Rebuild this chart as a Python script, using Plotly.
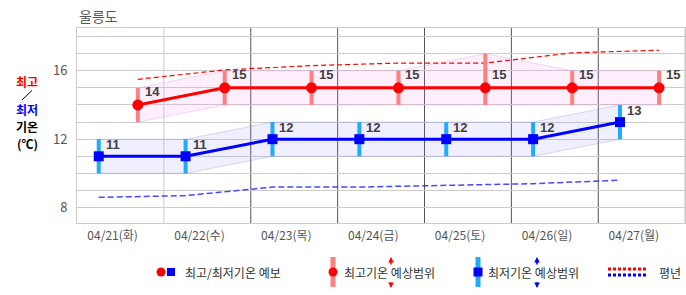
import plotly.graph_objects as go

# ---------------- data ----------------
dates = ["04/21(화)", "04/22(수)", "04/23(목)", "04/24(금)", "04/25(토)", "04/26(일)", "04/27(월)"]
max_temp = [14, 15, 15, 15, 15, 15, 15]
min_temp = [11, 11, 12, 12, 12, 12, 13]
max_lo = [13, 14, 14, 14, 14, 14, 14]
max_hi = [15, 16, 16, 16, 17, 16, 16]
min_lo = [10, 10, 11, 11, 11, 11, 12]
min_hi = [12, 12, 13, 13, 13, 13, 14]
normal_max = [15.5, 16.05, 16.3, 16.45, 16.45, 17.05, 17.2]
normal_min = [8.6, 8.7, 9.2, 9.2, 9.3, 9.4, 9.6]
y_ticks = [8, 12, 16]

# positions within a day (fraction of the day cell)
MIN_OFF, MAX_OFF, LBL_OFF = 0.25, 0.70, 0.41
n = len(dates)
x_min = [i + MIN_OFF for i in range(n)]
x_max = [i + MAX_OFF for i in range(n)]

FONT = "Noto Sans CJK KR"
RED, BLUE = "#ff0000", "#0000ff"
RED_BAR, BLUE_BAR = "#ff8080", "#22aaff"

# pixel helpers for decorations outside the plot
L, R, T, B = 77, 686, 28, 223
W, H = R - L, B - T
def xp(px): return (px - L) / W
def yp(py): return (B - py) / H

fig = go.Figure()

# bands
fig.add_trace(go.Scatter(x=x_max + x_max[::-1], y=max_hi + max_lo[::-1], fill="toself",
                         fillcolor="rgba(255,120,230,0.13)", mode="lines",
                         line=dict(color="rgba(220,150,220,0.35)", width=1),
                         hoverinfo="skip", showlegend=False))
fig.add_trace(go.Scatter(x=x_min + x_min[::-1], y=min_hi + min_lo[::-1], fill="toself",
                         fillcolor="rgba(120,120,255,0.12)", mode="lines",
                         line=dict(color="rgba(150,150,230,0.35)", width=1),
                         hoverinfo="skip", showlegend=False))

# normals
fig.add_trace(go.Scatter(x=x_max, y=normal_max, mode="lines",
                         line=dict(color=RED, width=1.2, dash="5px,3px"), showlegend=False))
fig.add_trace(go.Scatter(x=x_min, y=normal_min, mode="lines",
                         line=dict(color="rgba(40,40,255,0.85)", width=1.5, dash="6px,3px"), showlegend=False))

# range bars
def bars(xs, lo, hi):
    bx, by = [], []
    for x, a, b in zip(xs, lo, hi):
        bx += [x, x, None]
        by += [a, b, None]
    return bx, by

bx, by = bars(x_max, max_lo, max_hi)
fig.add_trace(go.Scatter(x=bx, y=by, mode="lines", line=dict(color=RED_BAR, width=4), showlegend=False))
bx, by = bars(x_min, min_lo, min_hi)
fig.add_trace(go.Scatter(x=bx, y=by, mode="lines", line=dict(color=BLUE_BAR, width=4), showlegend=False))

# main series
fig.add_trace(go.Scatter(x=x_max, y=max_temp, mode="lines+markers",
                         line=dict(color=RED, width=3),
                         marker=dict(symbol="circle", size=11, color=RED), showlegend=False))
fig.add_trace(go.Scatter(x=x_min, y=min_temp, mode="lines+markers",
                         line=dict(color=BLUE, width=3),
                         marker=dict(symbol="square", size=10, color=BLUE), showlegend=False))

annotations = []
for x, v in zip(x_max, max_temp):
    annotations.append(dict(x=x, y=v, xref="x", yref="y", text=f"<b>{v}</b>", showarrow=False,
                            xanchor="left", yanchor="middle", xshift=5, yshift=13,
                            font=dict(family="Liberation Sans", size=13, color="#404040")))
for x, v in zip(x_min, min_temp):
    annotations.append(dict(x=x, y=v, xref="x", yref="y", text=f"<b>{v}</b>", showarrow=False,
                            xanchor="left", yanchor="middle", xshift=5, yshift=12,
                            font=dict(family="Liberation Sans", size=13, color="#404040")))

# title
annotations.append(dict(x=xp(77), y=yp(16), xref="paper", yref="paper", text="울릉도", showarrow=False,
                        xanchor="left", yanchor="middle", font=dict(family=FONT, size=14, color="#555555")))

# y-axis title
for txt, col, py in [("최고", RED, 81), ("최저", BLUE, 109), ("기온", "#000000", 126.5), ("(℃)", "#000000", 143)]:
    annotations.append(dict(x=xp(27), y=yp(py), xref="paper", yref="paper", text=f"<b>{txt}</b>",
                            showarrow=False, xanchor="center", yanchor="middle",
                            font=dict(family=FONT, size=12, color=col)))

# legend texts
leg_y = yp(272)
for txt, px in [("최고/최저기온 예보", 183), ("최고기온 예상범위", 342), ("최저기온 예상범위", 486), ("평년", 657)]:
    annotations.append(dict(x=xp(px), y=leg_y, xref="paper", yref="paper", text=txt, showarrow=False,
                            xanchor="left", yanchor="middle",
                            font=dict(family=FONT, size=12, color="#333333")))

# legend arrows
for px, col in [(391, RED), (537, BLUE)]:
    annotations.append(dict(x=xp(px), y=yp(257), xref="paper", yref="paper", text="", showarrow=True,
                            ax=0, ay=9, arrowhead=2, arrowsize=0.7, arrowwidth=1.6, arrowcolor=col))
    annotations.append(dict(x=xp(px), y=yp(288), xref="paper", yref="paper", text="", showarrow=True,
                            ax=0, ay=-7, arrowhead=2, arrowsize=0.7, arrowwidth=1.6, arrowcolor=col))

shapes = []
# vertical day separators
for k in range(1, n + 1):
    col = "#cccccc" if k == 1 else ("#aaaaaa" if k == n else "#555555")
    shapes.append(dict(type="line", xref="x", yref="paper", x0=k, x1=k, y0=0, y1=1,
                       line=dict(color=col, width=1), layer="below"))
# y-axis title slash
shapes.append(dict(type="line", xref="paper", yref="paper", x0=xp(22), x1=xp(32), y0=yp(100), y1=yp(90.5),
                   line=dict(color="#000000", width=1)))
# legend marks
def pix_shape(kind, cx, cy, hw, hh, color):
    return dict(type=kind, xref="paper", yref="paper", xsizemode="pixel", ysizemode="pixel",
                xanchor=xp(cx), yanchor=yp(cy), x0=-hw, x1=hw, y0=-hh, y1=hh,
                fillcolor=color, line=dict(width=0))
shapes.append(pix_shape("circle", 161, 272, 4.5, 4.5, RED))
shapes.append(pix_shape("rect", 171, 272, 4, 4, BLUE))
shapes.append(pix_shape("rect", 333, 272, 2.5, 15, RED_BAR))
shapes.append(pix_shape("circle", 333, 272, 4.5, 4.5, RED))
shapes.append(pix_shape("rect", 478, 272, 2.5, 15, BLUE_BAR))
shapes.append(pix_shape("rect", 478, 272, 4.5, 4.5, BLUE))
shapes.append(dict(type="line", xref="paper", yref="paper", x0=xp(608), x1=xp(647), y0=yp(269), y1=yp(269),
                   line=dict(color=RED, width=3, dash="3px,2px")))
shapes.append(dict(type="line", xref="paper", yref="paper", x0=xp(608), x1=xp(647), y0=yp(275), y1=yp(275),
                   line=dict(color=BLUE, width=3, dash="3px,2px")))

fig.update_layout(
    width=686, height=295,
    margin=dict(l=L, r=686 - R, t=T, b=295 - B, pad=0),
    paper_bgcolor="white", plot_bgcolor="white",
    showlegend=False,
    annotations=annotations, shapes=shapes,
    xaxis=dict(range=[0, 7.01], tickvals=[i + LBL_OFF for i in range(n)], ticktext=dates,
               showgrid=False, zeroline=False, showline=True, linecolor="#cccccc", mirror=True,
               ticks="", ticklabelstandoff=2, fixedrange=True,
               tickfont=dict(family=FONT, size=12, color="#555555")),
    yaxis=dict(range=[7.1, 18.5], tickvals=y_ticks, showgrid=True, gridcolor="#cccccc", gridwidth=1,
               minor=dict(dtick=1, tick0=0, showgrid=True, gridcolor="#cccccc", gridwidth=1),
               zeroline=False, showline=True, linecolor="#cccccc", mirror=True,
               ticks="", ticklabelstandoff=6, fixedrange=True,
               tickfont=dict(family=FONT, size=13, color="#555555")),
)

fig.write_html("out.html")
